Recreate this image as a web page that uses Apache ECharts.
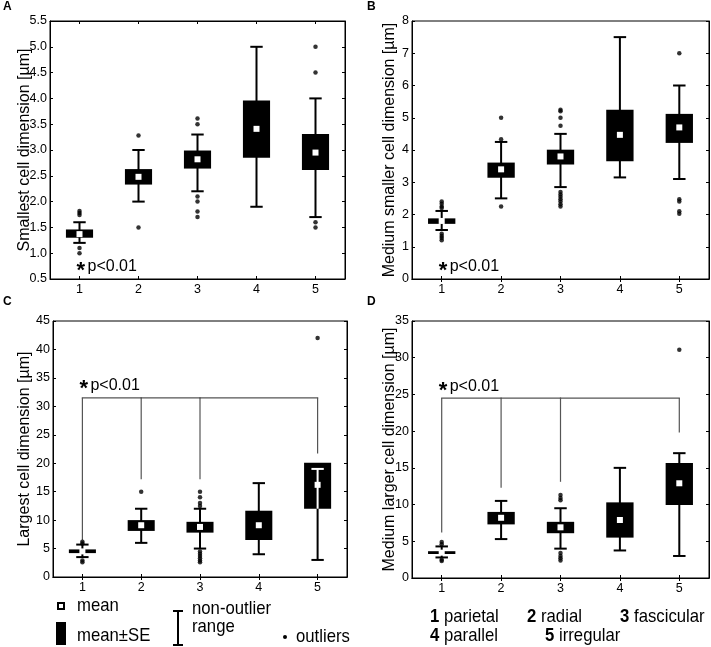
<!DOCTYPE html>
<html><head><meta charset="utf-8">
<script src="https://cdn.jsdelivr.net/npm/echarts@6/dist/echarts.min.js"></script>
<style>html,body{margin:0;padding:0;background:#fff}#c{width:711px;height:647px}</style>
</head><body><div id="c"></div>
<script>
// ---------- DATA ----------
const categories = ['1', '2', '3', '4', '5'];
const legendNames = ['parietal', 'radial', 'fascicular', 'parallel', 'irregular'];

// Panel A: Smallest cell dimension
const A_whiskerLow  = [1.2, 2.0, 2.2, 1.9, 1.7];
const A_seLow       = [1.30, 2.33, 2.64, 2.85, 2.61];
const A_mean        = [1.37, 2.48, 2.82, 3.41, 2.95];
const A_seHigh      = [1.46, 2.63, 2.99, 3.96, 3.31];
const A_whiskerHigh = [1.6, 3.0, 3.3, 5.0, 4.0];
const A_outliers = [[0,1.82],[0,1.78],[0,1.74],[0,1.1],[0,1.0],[1,3.28],[1,1.5],
  [2,3.61],[2,3.5],[2,2.1],[2,2.0],[2,1.81],[2,1.7],[4,5.0],[4,4.5],[4,1.6],[4,1.5]];

// Panel B: Medium smaller cell dimension
const B_whiskerLow  = [1.52, 2.5, 2.85, 3.15, 3.1];
const B_seLow       = [1.71, 3.14, 3.55, 3.65, 4.22];
const B_mean        = [1.80, 3.40, 3.80, 4.47, 4.70];
const B_seHigh      = [1.88, 3.61, 4.01, 5.25, 5.12];
const B_whiskerHigh = [2.11, 4.25, 4.5, 7.5, 6.0];
const B_outliers = [[0,2.4],[0,2.33],[0,2.25],[0,2.2],[0,1.4],[0,1.33],[0,1.27],[0,1.2],
  [1,5.0],[1,4.33],[1,2.25],
  [2,5.25],[2,5.2],[2,5.0],[2,4.75],[2,2.7],[2,2.62],[2,2.55],[2,2.47],[2,2.4],[2,2.32],[2,2.25],
  [4,7.0],[4,2.47],[4,2.4],[4,2.1],[4,2.02]];

// Panel C: Largest cell dimension
const C_whiskerLow  = [3.5, 6.0, 5.0, 4.0, 3.0];
const C_seLow       = [4.2, 8.1, 7.8, 6.5, 12.0];
const C_mean        = [4.5, 9.1, 8.8, 9.1, 16.2];
const C_seHigh      = [4.85, 10.0, 9.7, 11.65, 20.1];
const C_whiskerHigh = [5.7, 12.0, 12.0, 16.5, 19.0];
const C_outliers = [[0,6.2],[0,5.9],[0,2.9],[0,2.6],[1,15.0],
  [2,15.0],[2,14.0],[2,13.0],[2,12.5],[2,4.5],[2,4.1],[2,3.7],[2,3.3],[2,2.9],[2,2.6],[4,42.0]];
const C_bracketLevel = 31.5;
const C_bracketCats  = [0, 1, 2, 4];
const C_bracketEnds  = [6.5, 17.2, 17.2, 21.7];

// Panel D: Medium larger cell dimension
const D_whiskerLow  = [2.8, 5.3, 4.0, 3.75, 3.0];
const D_seLow       = [3.27, 7.3, 6.1, 5.5, 9.95];
const D_mean        = [3.45, 8.2, 6.9, 7.9, 12.9];
const D_seHigh      = [3.65, 9.0, 7.65, 10.3, 15.65];
const D_whiskerHigh = [4.3, 10.5, 9.5, 15.0, 17.0];
const D_outliers = [[0,4.9],[0,4.6],[0,2.5],[0,2.3],
  [2,11.3],[2,10.9],[2,10.6],[2,3.4],[2,3.0],[2,2.7],[2,2.4],[4,31.1]];
const D_bracketLevel = 24.5;
const D_bracketCats  = [0, 1, 2, 4];
const D_bracketEnds  = [6.2, 12.3, 13.1, 19.8];

// p-value annotation heights (data units)
const pTextY = [0.74, 0.38, 33.7, 26.0];
const pText = 'p<0.01';

// ---------- LAYOUT ----------
const FONT = '"Liberation Sans", Arial, sans-serif';
const panels = [
  {letter:'A', title:'Smallest cell dimension [µm]', min:0.5, max:5.5, interval:0.5, dec:1,
   d:[A_whiskerLow,A_seLow,A_mean,A_seHigh,A_whiskerHigh], out:A_outliers, br:null,
   grid:{left:50, top:21, width:295, height:258}, lx:3, ly:7, gap:17},
  {letter:'B', title:'Medium smaller cell dimension [µm]', min:0, max:8, interval:1, dec:0,
   d:[B_whiskerLow,B_seLow,B_mean,B_seHigh,B_whiskerHigh], out:B_outliers, br:null,
   grid:{left:412, top:21, width:297, height:258}, lx:367, ly:7, gap:14},
  {letter:'C', title:'Largest cell dimension [µm]', min:0, max:45, interval:5, dec:0,
   d:[C_whiskerLow,C_seLow,C_mean,C_seHigh,C_whiskerHigh], out:C_outliers,
   br:{level:C_bracketLevel, cats:C_bracketCats, ends:C_bracketEnds},
   grid:{left:53, top:321, width:294, height:256}, lx:3, ly:302, gap:20},
  {letter:'D', title:'Medium larger cell dimension [µm]', min:0, max:35, interval:5, dec:0,
   d:[D_whiskerLow,D_seLow,D_mean,D_seHigh,D_whiskerHigh], out:D_outliers,
   br:{level:D_bracketLevel, cats:D_bracketCats, ends:D_bracketEnds},
   grid:{left:412, top:321, width:297, height:257}, lx:367, ly:302, gap:14}
];

function renderBox(params, api) {
  const c = api.value(0);
  const wl = api.value(1), sl = api.value(2), m = api.value(3), sh = api.value(4), wh = api.value(5);
  const x = api.coord([c, m])[0];
  const band = api.size([1, 0])[0];
  const bw = band * 0.46, cw = band * 0.21, ms = 6;
  const y = v => api.coord([c, v])[1];
  const blk = {stroke:'#000', lineWidth:2};
  const wht = {stroke:'#fff', lineWidth:2};
  const ch = [];
  ch.push({type:'line', shape:{x1:x, y1:y(wl), x2:x, y2:y(wh)}, style:blk});
  ch.push({type:'line', shape:{x1:x-cw/2, y1:y(wl), x2:x+cw/2, y2:y(wl)}, style:blk});
  ch.push({type:'line', shape:{x1:x-cw/2, y1:y(wh), x2:x+cw/2, y2:y(wh)}, style:blk});
  ch.push({type:'rect', shape:{x:x-bw/2, y:y(sh), width:bw, height:y(sl)-y(sh)}, style:{fill:'#000'}});
  if (wh < sh || wl > sl) {
    const lo = Math.max(wl, sl), hi = Math.min(wh, sh);
    ch.push({type:'line', shape:{x1:x, y1:y(lo), x2:x, y2:y(hi)}, style:wht});
    if (wh < sh) ch.push({type:'line', shape:{x1:x-cw/2, y1:y(wh), x2:x+cw/2, y2:y(wh)}, style:wht});
    if (wl > sl) ch.push({type:'line', shape:{x1:x-cw/2, y1:y(wl), x2:x+cw/2, y2:y(wl)}, style:wht});
  }
  ch.push({type:'rect', shape:{x:x-ms/2, y:y(m)-ms/2, width:ms, height:ms}, style:{fill:'#fff'}});
  return {type:'group', children:ch};
}

function makeBracketRenderer(br) {
  return function (params, api) {
    const i = params.dataIndex;
    const c = api.value(0), end = api.value(1);
    const p0 = api.coord([c, br.level]);
    const p1 = api.coord([c, end]);
    const st = {stroke:'#555', lineWidth:1.2};
    const ch = [{type:'line', shape:{x1:p0[0], y1:p0[1], x2:p1[0], y2:p1[1]}, style:st}];
    if (i < br.cats.length - 1) {
      const pn = api.coord([br.cats[i+1], br.level]);
      ch.push({type:'line', shape:{x1:p0[0]-0.6, y1:p0[1], x2:pn[0]+0.6, y2:pn[1]}, style:st});
    }
    return {type:'group', children:ch};
  };
}

const grid = [], xAxis = [], yAxis = [], series = [];
const boxSeriesIdx = [];
panels.forEach((p, i) => {
  grid.push(Object.assign({show:true, borderColor:'#000', borderWidth:1, backgroundColor:'transparent'}, p.grid));
  const tick = {show:true, inside:true, length:3, alignWithLabel:true, lineStyle:{color:'#000', width:1}};
  xAxis.push({type:'category', gridIndex:i, data:categories, position:'bottom', boundaryGap:true,
    axisLine:{lineStyle:{color:'#000', width:1}}, axisTick:tick,
    axisLabel:{color:'#000', fontSize:12.5, fontFamily:FONT, margin:4}, splitLine:{show:false}});
  xAxis.push({type:'category', gridIndex:i, data:categories, position:'top', boundaryGap:true,
    axisLine:{lineStyle:{color:'#000'}}, axisTick:tick, axisLabel:{show:false}, splitLine:{show:false}});
  const fmt = v => v.toFixed(p.dec);
  yAxis.push({type:'value', gridIndex:i, min:p.min, max:p.max, interval:p.interval, position:'left',
    name:p.title, nameLocation:'middle', nameRotate:90, nameGap:p.gap, nameMoveOverlap:false,
    nameTextStyle:{color:'#000', fontSize:16, fontFamily:FONT},
    axisLine:{show:true, lineStyle:{color:'#000'}}, axisTick:{show:true, inside:true, length:3, lineStyle:{color:'#000'}},
    axisLabel:{color:'#000', fontSize:12.5, fontFamily:FONT, margin:3, formatter:fmt}, splitLine:{show:false}});
  yAxis.push({type:'value', gridIndex:i, min:p.min, max:p.max, interval:p.interval, position:'right',
    axisLine:{show:true, lineStyle:{color:'#000'}}, axisTick:{show:true, inside:true, length:3, lineStyle:{color:'#000'}},
    axisLabel:{show:false}, splitLine:{show:false}});
  const boxData = categories.map((c, k) => [k, p.d[0][k], p.d[1][k], p.d[2][k], p.d[3][k], p.d[4][k]]);
  if (p.br) {
    series.push({type:'custom', xAxisIndex:2*i, yAxisIndex:2*i, silent:true,
      renderItem:makeBracketRenderer(p.br), data:p.br.cats.map((c, k) => [c, p.br.ends[k]]),
      encode:{x:0, y:1}, z:1});
  }
  series.push({type:'scatter', xAxisIndex:2*i, yAxisIndex:2*i, data:p.out, symbol:'circle',
    symbolSize:4.5, itemStyle:{color:'#000'}, silent:true, z:2});
  boxSeriesIdx.push(series.length);
  series.push({type:'custom', xAxisIndex:2*i, yAxisIndex:2*i, renderItem:renderBox, data:boxData,
    encode:{x:0, y:[1,2,3,4,5]}, silent:true, z:3});
});

const chart = echarts.init(document.getElementById('c'), null, {renderer:'canvas'});
chart.setOption({animation:false, backgroundColor:'#fff', grid, xAxis, yAxis, series});

// ---------- annotations & legend ----------
const graphics = [];
const txt = (x, y, s, opt, sx) => graphics.push({type:'text', x, y, z:10, scaleX: sx || 1,
  style:Object.assign({text:s, fill:'#000', font:'17px ' + FONT, verticalAlign:'middle', align:'left'}, opt || {})});
const LEG = '19px ' + FONT, LEGB = 'bold 19px ' + FONT, SX = 0.88;

panels.forEach((p, i) => {
  txt(p.lx, p.ly, p.letter, {font:'bold 12px ' + FONT});
  const pt = chart.convertToPixel({seriesIndex: boxSeriesIdx[i]}, [0, pTextY[i]]);
  txt(pt[0] - 3, pt[1] + 4, '*', {font:'bold 22px ' + FONT});
  txt(pt[0] + 8, pt[1], pText, {font:'16px ' + FONT});
});

// legend (bottom)
graphics.push({type:'rect', z:10, shape:{x:58, y:603, width:6, height:6}, style:{fill:'#fff', stroke:'#000', lineWidth:2}});
txt(77, 606, 'mean', {font:LEG}, SX);
graphics.push({type:'rect', z:10, shape:{x:56, y:622, width:10, height:23}, style:{fill:'#000'}});
txt(77, 636, 'mean\u00b1SE', {font:LEG}, SX);
graphics.push({type:'line', z:10, shape:{x1:178, y1:611, x2:178, y2:645}, style:{stroke:'#000', lineWidth:2}});
graphics.push({type:'line', z:10, shape:{x1:173, y1:611, x2:183, y2:611}, style:{stroke:'#000', lineWidth:2}});
graphics.push({type:'line', z:10, shape:{x1:173, y1:645, x2:183, y2:645}, style:{stroke:'#000', lineWidth:2}});
txt(192, 609, 'non-outlier', {font:LEG}, SX);
txt(192, 627, 'range', {font:LEG}, SX);
graphics.push({type:'circle', z:10, shape:{cx:285, cy:637, r:2}, style:{fill:'#000'}});
txt(296, 637, 'outliers', {font:LEG}, SX);

const legPos = [[430, 617], [527, 617], [620, 617], [430, 636], [545, 636]];
legendNames.forEach((n, k) => {
  txt(legPos[k][0], legPos[k][1], categories[k], {font:LEGB}, SX);
  txt(legPos[k][0] + 14, legPos[k][1], n, {font:LEG}, SX);
});

chart.setOption({graphic: graphics});
</script>
</body></html>
